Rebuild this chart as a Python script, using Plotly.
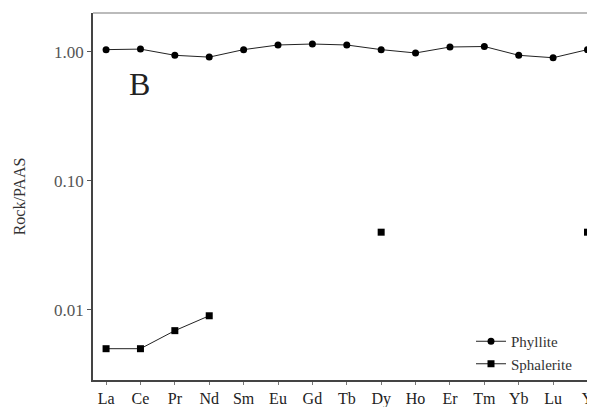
import plotly.graph_objects as go
import math

elements = ["La", "Ce", "Pr", "Nd", "Sm", "Eu", "Gd", "Tb", "Dy", "Ho", "Er", "Tm", "Yb", "Lu", "Y"]
phyllite = [1.04, 1.05, 0.94, 0.91, 1.04, 1.13, 1.15, 1.13, 1.04, 0.98, 1.09, 1.10, 0.94, 0.90, 1.04]
sphalerite = [0.005, 0.005, 0.0069, 0.0090, None, None, None, None, 0.04, None, None, None, None, None, 0.04]
y_ticks = [1.0, 0.1, 0.01]
y_tick_labels = ["1.00", "0.10", "0.01"]

FONT = "Liberation Serif"

fig = go.Figure()
fig.add_trace(go.Scatter(
    x=elements, y=phyllite, name="Phyllite", mode="lines+markers",
    line=dict(color="#222", width=1),
    marker=dict(symbol="circle", size=7, color="black"),
))
fig.add_trace(go.Scatter(
    x=elements, y=sphalerite, name="Sphalerite", mode="lines+markers",
    line=dict(color="#222", width=1), connectgaps=False,
    marker=dict(symbol="square", size=7, color="black"),
))

fig.add_annotation(x=0.092, y=0.807, xref="paper", yref="paper", text="B",
                   showarrow=False, font=dict(family=FONT, size=32, color="#222"),
                   xanchor="center", yanchor="middle")

fig.update_layout(
    width=587, height=399,
    margin=dict(l=85, r=2, t=5, b=27, autoexpand=False),
    paper_bgcolor="white", plot_bgcolor="white",
    font=dict(family=FONT, size=12, color="#333"),
    showlegend=True,
    legend=dict(x=0.756, y=0.0, xanchor="left", yanchor="bottom",
                bgcolor="rgba(0,0,0,0)", font=dict(family=FONT, size=15, color="#333"),
                tracegroupgap=0),
)
fig.update_xaxes(
    type="category", range=[-0.38, 14.16],
    showgrid=False, showline=True, linecolor="#444", linewidth=1.5, mirror=False,
    ticks="outside", ticklen=3, tickcolor="#777",
    tickfont=dict(family=FONT, size=16, color="#222"),
)
fig.update_yaxes(
    type="log", range=[math.log10(0.00286), math.log10(2.0)],
    tickvals=y_ticks, ticktext=y_tick_labels,
    showgrid=False, showline=True, linecolor="#444", linewidth=1.5,
    ticks="outside", ticklen=4, tickcolor="#555",
    tickfont=dict(family=FONT, size=17, color="#555"),
    title=dict(text="Rock/PAAS", font=dict(family=FONT, size=16, color="#333"), standoff=24),
)
# top border (light gray) and right border
fig.add_shape(type="line", xref="paper", yref="paper", x0=0, x1=1, y0=1, y1=1,
              line=dict(color="#bbb", width=2))
fig.add_shape(type="line", xref="paper", yref="paper", x0=1, x1=1, y0=0, y1=1,
              line=dict(color="#ddd", width=1))

fig.write_html("out.html")
